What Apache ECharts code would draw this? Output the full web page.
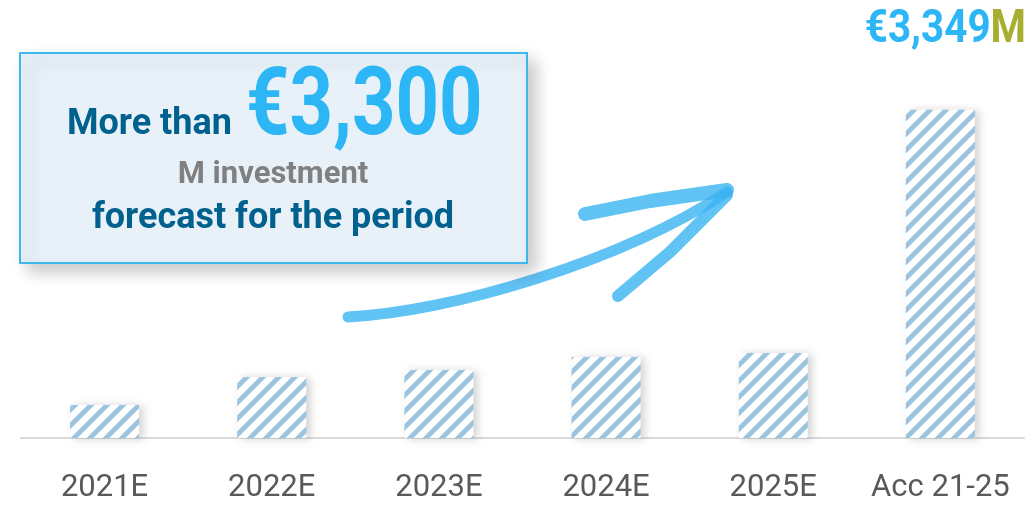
<!DOCTYPE html>
<html>
<head>
<meta charset="utf-8">
<script src="https://cdn.jsdelivr.net/npm/echarts@6/dist/echarts.min.js"></script>
<style>
  html, body { margin: 0; padding: 0; background: #fff; }
  #chart_invest { width: 1033px; height: 507px; }
</style>
</head>
<body>
<div id="chart_invest"></div>
<script>
  // datos (M€)
  var years = ['2021E', '2022E', '2023E', '2024E', '2025E', 'Acc 21-25'];
  var investment = [337, 623, 694, 827, 868, 3349];
  var totalLabel = '€3,349';
  var headline = '€3,300';

  // patrón de rayas diagonales
  function stripes() {
    var s = 16;
    var c = document.createElement('canvas');
    c.width = s; c.height = s;
    var ctx = c.getContext('2d');
    ctx.fillStyle = '#ffffff';
    ctx.fillRect(0, 0, s, s);
    ctx.strokeStyle = '#9dc4df';
    ctx.lineWidth = 4.8;
    ctx.beginPath();
    ctx.moveTo(-s / 2, s / 2); ctx.lineTo(s / 2, -s / 2);
    ctx.moveTo(0, s); ctx.lineTo(s, 0);
    ctx.moveTo(s / 2, s * 1.5); ctx.lineTo(s * 1.5, s / 2);
    ctx.stroke();
    return c;
  }

  var darkBlue = '#00618f';
  var lightBlue = '#2cb6f5';
  var arrowColor = '#3ab3f1';

  var myChart = echarts.init(document.getElementById('chart_invest'));
  myChart.setOption({
    animation: false,
    grid: {
      left: 21,
      right: 9,
      top: 46,
      bottom: 69
    },
    xAxis: {
      type: 'category',
      data: years,
      axisTick: { show: false },
      axisLine: {
        lineStyle: { color: '#dadada', width: 2 }
      },
      axisLabel: {
        interval: 0,
        margin: 35,
        fontFamily: 'Roboto',
        fontSize: 31,
        color: '#595959'
      }
    },
    yAxis: {
      type: 'value',
      min: 0,
      max: 4000,
      show: false,
      splitLine: { show: false }
    },
    series: [
      {
        type: 'bar',
        data: investment,
        barWidth: 69,
        itemStyle: {
          color: { image: stripes(), repeat: 'repeat' },
          shadowColor: 'rgba(0,0,0,0.18)',
          shadowBlur: 8,
          shadowOffsetX: 4,
          shadowOffsetY: 1
        }
      }
    ],
    graphic: [
      // flecha dibujada a mano
      {
        type: 'bezierCurve',
        shape: { x1: 348, y1: 317, cpx1: 450, cpy1: 312, cpx2: 620, cpy2: 262, x2: 727, y2: 192 },
        style: { stroke: arrowColor, lineWidth: 11, fill: null, lineCap: 'round', opacity: 0.8 },
        z: 10
      },
      {
        type: 'polyline',
        shape: { points: [[585, 214], [650, 201], [727, 190]] },
        style: { stroke: arrowColor, lineWidth: 14, fill: null, lineCap: 'round', lineJoin: 'round', opacity: 0.8 },
        z: 10
      },
      {
        type: 'polyline',
        shape: { points: [[618, 296], [670, 252], [727, 195]] },
        style: { stroke: arrowColor, lineWidth: 12, fill: null, lineCap: 'round', lineJoin: 'round', opacity: 0.8 },
        z: 10
      },
      // recuadro
      {
        type: 'rect',
        shape: { x: 20, y: 53, width: 507, height: 210 },
        style: {
          fill: '#e9f1f8',
          stroke: '#40b6ee',
          lineWidth: 2,
          shadowColor: 'rgba(0,0,0,0.22)',
          shadowBlur: 16,
          shadowOffsetX: 8,
          shadowOffsetY: 8
        },
        z: 20
      },
      {
        type: 'text',
        x: 67, y: 125,
        style: {
          text: 'More than',
          font: 'bold 36px Roboto',
          fill: darkBlue,
          align: 'left',
          verticalAlign: 'middle'
        },
        z: 21
      },
      {
        type: 'text',
        x: 246, y: 110,
        scaleX: 0.8,
        style: {
          text: headline,
          font: 'bold 95px Roboto',
          fill: lightBlue,
          align: 'left',
          verticalAlign: 'middle'
        },
        z: 21
      },
      {
        type: 'text',
        x: 273, y: 175,
        style: {
          text: 'M investment',
          font: 'bold 31px Roboto',
          fill: '#808080',
          align: 'center',
          verticalAlign: 'middle'
        },
        z: 21
      },
      {
        type: 'text',
        x: 273, y: 219,
        style: {
          text: 'forecast for the period',
          font: 'bold 36px Roboto',
          fill: darkBlue,
          align: 'center',
          verticalAlign: 'middle'
        },
        z: 21
      },
      // total acumulado
      {
        type: 'text',
        x: 1026, y: 30,
        scaleX: 0.86,
        style: {
          text: '{a|' + totalLabel + '}{b|M}',
          align: 'right',
          verticalAlign: 'middle',
          rich: {
            a: { font: 'bold 47px Roboto', fill: lightBlue, color: lightBlue },
            b: { font: 'bold 47px Roboto', fill: '#a8ae2f', color: '#a8ae2f' }
          }
        },
        z: 21
      }
    ]
  });
</script>
</body>
</html>
